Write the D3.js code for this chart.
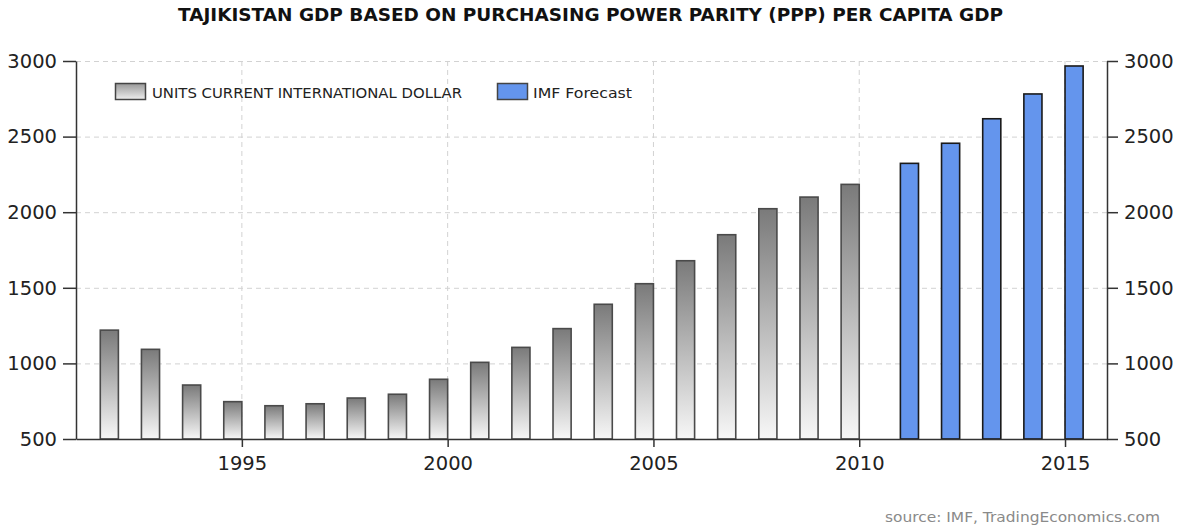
<!DOCTYPE html>
<html>
<head>
<meta charset="utf-8">
<script src="https://cdn.jsdelivr.net/npm/d3@7"></script>
<style>
  html, body { margin: 0; padding: 0; background: #fff; }
  svg { display: block; }
  text { font-family: "DejaVu Sans", Verdana, sans-serif; }
</style>
</head>
<body>
<svg id="chart" width="1180" height="526"></svg>
<script>
// GDP per capita, PPP (current international dollars)
const histYears = [1992,1993,1994,1995,1996,1997,1998,1999,2000,2001,2002,2003,2004,2005,2006,2007,2008,2009,2010];
const histValues = [1220,1093,857,747,720,733,771,796,895,1007,1106,1230,1391,1527,1679,1851,2023,2100,2184];
const forecastYears = [2011,2012,2013,2014,2015];
const forecastValues = [2323,2456,2618,2782,2967];
const yTicks = [500,1000,1500,2000,2500,3000];
const xTicks = [1995,2000,2005,2010,2015];

const svg = d3.select("#chart");
const margin = { left: 76, right: 73, top: 61, bottom: 87 };
const W = 1180, H = 526;

const x = d3.scaleLinear().domain([1990.97, 2016.02]).range([margin.left, W - margin.right]);
const y = d3.scaleLinear().domain([500, 3000]).range([H - margin.bottom, margin.top]);
const barW = x(1.44) - x(1);

// gradient for historical bars
const defs = svg.append("defs");
const grad = defs.append("linearGradient").attr("id", "grayBar").attr("x1", 0).attr("y1", 0).attr("x2", 0).attr("y2", 1);
grad.append("stop").attr("offset", "0%").attr("stop-color", "#7a7a7a");
grad.append("stop").attr("offset", "100%").attr("stop-color", "#f7f7f7");
const gradL = defs.append("linearGradient").attr("id", "grayLegend").attr("x1", 0).attr("y1", 0).attr("x2", 0).attr("y2", 1);
gradL.append("stop").attr("offset", "0%").attr("stop-color", "#999");
gradL.append("stop").attr("offset", "100%").attr("stop-color", "#eee");

// title
svg.append("text")
  .attr("x", 178).attr("y", 21)
  .attr("textLength", 825).attr("lengthAdjust", "spacingAndGlyphs")
  .style("font-family", "'DejaVu Sans', sans-serif")
  .style("font-size", "18px").style("font-weight", "bold")
  .attr("fill", "#111")
  .text("TAJIKISTAN GDP BASED ON PURCHASING POWER PARITY (PPP) PER CAPITA GDP");

// grid
const grid = svg.append("g").attr("stroke", "#d2d2d2").attr("stroke-dasharray", "5,4").attr("stroke-width", 1);
grid.selectAll("line.h").data(yTicks.filter(d => d > 500)).join("line")
  .attr("x1", x.range()[0]).attr("x2", x.range()[1])
  .attr("y1", d => y(d) + 0.5).attr("y2", d => y(d) + 0.5);
grid.selectAll("line.v").data(xTicks).join("line")
  .attr("x1", d => x(d)).attr("x2", d => x(d))
  .attr("y1", y.range()[1]).attr("y2", y.range()[0]);

// bars: historical bars end at their year, forecast bars start at theirs
svg.append("g").selectAll("rect").data(histYears.map((yr, i) => ({ yr, v: histValues[i] }))).join("rect")
  .attr("x", d => x(d.yr) - barW)
  .attr("y", d => y(d.v))
  .attr("width", barW)
  .attr("height", d => y(500) - y(d.v))
  .attr("fill", "url(#grayBar)")
  .attr("stroke", "#4a4a4a").attr("stroke-width", 1.6);

svg.append("g").selectAll("rect").data(forecastYears.map((yr, i) => ({ yr, v: forecastValues[i] }))).join("rect")
  .attr("x", d => x(d.yr))
  .attr("y", d => y(d.v))
  .attr("width", barW)
  .attr("height", d => y(500) - y(d.v))
  .attr("fill", "#6495ed")
  .attr("stroke", "#1a1a1a").attr("stroke-width", 1.6);

// axes
const axisStyle = g => {
  g.selectAll("path.domain").attr("stroke", "#333").attr("stroke-width", 1.5);
  g.selectAll(".tick line").attr("stroke", "#333").attr("stroke-width", 1.5);
  g.selectAll(".tick text").attr("fill", "#222").style("font-size", "19.5px").style("font-family", "'DejaVu Sans', sans-serif");
};

svg.append("g").attr("transform", `translate(${x.range()[0]},0)`)
  .call(d3.axisLeft(y).tickValues(yTicks).tickSize(13).tickSizeOuter(0).tickPadding(6).tickFormat(d3.format("d")))
  .call(axisStyle);

svg.append("g").attr("transform", `translate(${x.range()[1]},0)`)
  .call(d3.axisRight(y).tickValues(yTicks).tickSize(11).tickSizeOuter(0).tickPadding(6).tickFormat(d3.format("d")))
  .call(axisStyle);

svg.append("g").attr("transform", `translate(0,${y.range()[0]})`)
  .call(d3.axisBottom(x).tickValues(xTicks).tickSize(8).tickSizeOuter(0).tickPadding(9).tickFormat(d3.format("d")))
  .call(axisStyle);

// legend
const legend = svg.append("g");
legend.append("rect").attr("x", 115.5).attr("y", 83.5).attr("width", 30).attr("height", 16)
  .attr("fill", "url(#grayLegend)").attr("stroke", "#444").attr("stroke-width", 1.5);
legend.append("text").attr("x", 152).attr("y", 97.5).style("font-size", "14px").attr("fill", "#222")
  .attr("textLength", 310).attr("lengthAdjust", "spacingAndGlyphs")
  .text("UNITS CURRENT INTERNATIONAL DOLLAR");
legend.append("rect").attr("x", 497.5).attr("y", 83.5).attr("width", 30).attr("height", 16)
  .attr("fill", "#6495ed").attr("stroke", "#444").attr("stroke-width", 1.5);
legend.append("text").attr("x", 533).attr("y", 97.5).style("font-size", "14px").attr("fill", "#222")
  .attr("textLength", 99).attr("lengthAdjust", "spacingAndGlyphs")
  .text("IMF Forecast");

// source
svg.append("text").attr("x", 1160).attr("y", 522).attr("text-anchor", "end")
  .style("font-size", "14px").attr("fill", "#8a8a8a")
  .attr("textLength", 275).attr("lengthAdjust", "spacingAndGlyphs")
  .text("source: IMF, TradingEconomics.com");
</script>
</body>
</html>
